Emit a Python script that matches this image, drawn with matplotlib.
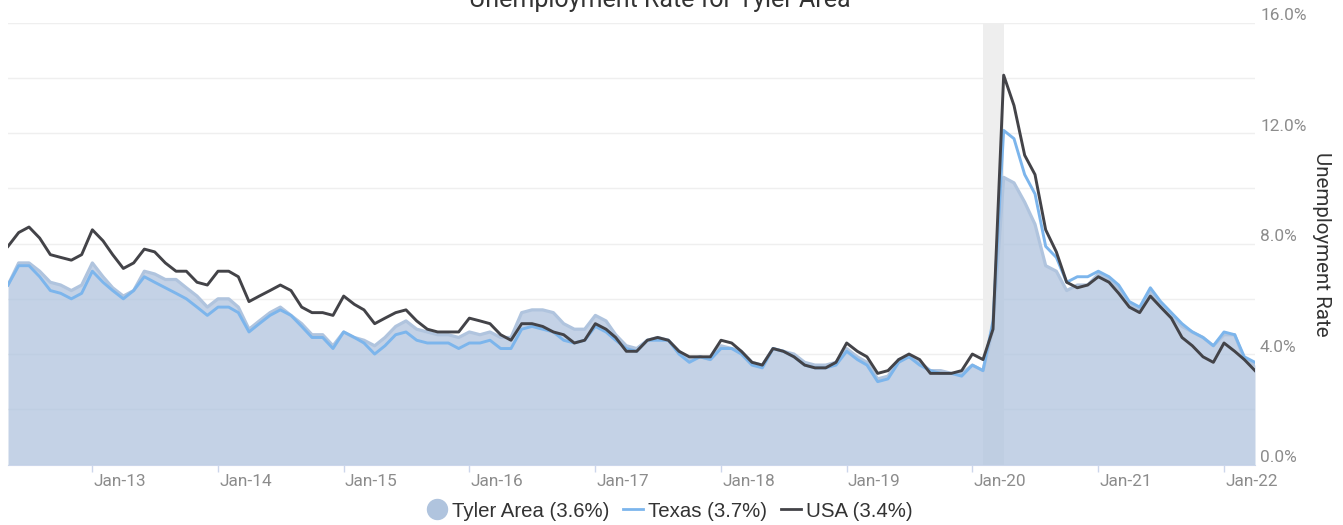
import numpy as np
import pandas as pd
import matplotlib
matplotlib.use("Agg")
import matplotlib.pyplot as plt
import matplotlib.transforms as mtransforms
from matplotlib.lines import Line2D

# monthly values, May 2012 .. Apr 2022
months = pd.date_range("2012-05-01", periods=120, freq="MS")

tyler = [6.5, 7.3, 7.3, 7.0, 6.6, 6.5, 6.3, 6.5,
         7.3, 6.8, 6.4, 6.1, 6.3, 7.0, 6.9, 6.7, 6.7, 6.4, 6.1, 5.7,
         6.0, 6.0, 5.7, 4.9, 5.2, 5.5, 5.7, 5.4, 5.1, 4.7, 4.7, 4.3,
         4.8, 4.6, 4.5, 4.3, 4.6, 5.0, 5.2, 4.9, 4.8, 4.7, 4.7, 4.6,
         4.8, 4.7, 4.8, 4.6, 4.6, 5.5, 5.6, 5.6, 5.5, 5.1, 4.9, 4.9,
         5.4, 5.2, 4.7, 4.3, 4.2, 4.5, 4.6, 4.5, 4.1, 3.8, 3.9, 3.8,
         4.3, 4.2, 4.1, 3.7, 3.6, 4.2, 4.1, 4.0, 3.7, 3.6, 3.6, 3.7,
         4.2, 3.9, 3.7, 3.1, 3.2, 3.8, 3.9, 3.7, 3.4, 3.4, 3.3, 3.3,
         3.6, 3.4, 4.9, 10.4, 10.2, 9.5, 8.7, 7.2, 7.0, 6.3, 6.5, 6.5,
         6.9, 6.7, 6.4, 5.8, 5.6, 6.3, 5.8, 5.4, 5.0, 4.8, 4.6, 4.3,
         4.7, 4.7, 3.8, 3.6]

texas = [6.5, 7.2, 7.2, 6.8, 6.3, 6.2, 6.0, 6.2,
         7.0, 6.6, 6.3, 6.0, 6.3, 6.8, 6.6, 6.4, 6.2, 6.0, 5.7, 5.4,
         5.7, 5.7, 5.5, 4.8, 5.1, 5.4, 5.6, 5.4, 5.0, 4.6, 4.6, 4.2,
         4.8, 4.6, 4.4, 4.0, 4.3, 4.7, 4.8, 4.5, 4.4, 4.4, 4.4, 4.2,
         4.4, 4.4, 4.5, 4.2, 4.2, 4.9, 5.0, 4.9, 4.8, 4.5, 4.4, 4.5,
         5.0, 4.8, 4.5, 4.2, 4.1, 4.5, 4.5, 4.5, 4.0, 3.7, 3.9, 3.8,
         4.2, 4.2, 4.0, 3.6, 3.5, 4.2, 4.1, 3.9, 3.6, 3.5, 3.5, 3.6,
         4.1, 3.8, 3.6, 3.0, 3.1, 3.7, 3.9, 3.6, 3.4, 3.3, 3.3, 3.2,
         3.6, 3.4, 5.2, 12.1, 11.8, 10.5, 9.8, 7.9, 7.5, 6.6, 6.8, 6.8,
         7.0, 6.8, 6.5, 5.9, 5.7, 6.4, 5.9, 5.5, 5.1, 4.8, 4.6, 4.3,
         4.8, 4.7, 3.9, 3.7]

usa = [7.9, 8.4, 8.6, 8.2, 7.6, 7.5, 7.4, 7.6,
       8.5, 8.1, 7.6, 7.1, 7.3, 7.8, 7.7, 7.3, 7.0, 7.0, 6.6, 6.5,
       7.0, 7.0, 6.8, 5.9, 6.1, 6.3, 6.5, 6.3, 5.7, 5.5, 5.5, 5.4,
       6.1, 5.8, 5.6, 5.1, 5.3, 5.5, 5.6, 5.2, 4.9, 4.8, 4.8, 4.8,
       5.3, 5.2, 5.1, 4.7, 4.5, 5.1, 5.1, 5.0, 4.8, 4.7, 4.4, 4.5,
       5.1, 4.9, 4.6, 4.1, 4.1, 4.5, 4.6, 4.5, 4.1, 3.9, 3.9, 3.9,
       4.5, 4.4, 4.1, 3.7, 3.6, 4.2, 4.1, 3.9, 3.6, 3.5, 3.5, 3.7,
       4.4, 4.1, 3.9, 3.3, 3.4, 3.8, 4.0, 3.8, 3.3, 3.3, 3.3, 3.4,
       4.0, 3.8, 4.9, 14.1, 13.0, 11.2, 10.5, 8.5, 7.7, 6.6, 6.4, 6.5,
       6.8, 6.6, 6.2, 5.7, 5.5, 6.1, 5.7, 5.3, 4.6, 4.3, 3.9, 3.7,
       4.4, 4.1, 3.8, 3.4]

tick_labels = ["Jan-13", "Jan-14", "Jan-15", "Jan-16", "Jan-17",
               "Jan-18", "Jan-19", "Jan-20", "Jan-21", "Jan-22"]
y_labels = [0, 4, 8, 12, 16]
recession = ("2020-02-01", "2020-04-01")

legend_names = ["Tyler Area (3.6%)", "Texas (3.7%)", "USA (3.4%)"]

TYLER_C = "#b0c4de"
TEXAS_C = "#7cb5ec"
USA_C = "#434348"
LABEL_C = "#8c8c8c"

W, H = 1343, 525
fig = plt.figure(figsize=(W / 100, H / 100), dpi=100)
ax = fig.add_axes([8 / W, 1 - 464.5 / H, (1255 - 8) / W, (464.5 - 22.7) / H])

ax.axvspan(pd.Timestamp(recession[0]), pd.Timestamp(recession[1]),
           color="#eeeeee", lw=0, zorder=1)
ax.fill_between(months, tyler, 0, color=TYLER_C, alpha=0.75, lw=0, zorder=2)
ax.plot(months, tyler, color=TYLER_C, lw=2.3, zorder=3)
ax.plot(months, texas, color=TEXAS_C, lw=2.1, zorder=4)
ax.plot(months, usa, color=USA_C, lw=2.1, zorder=5)

ax.set_xlim(months[0], months[-1])
ax.set_ylim(0, 16)

for s in ["top", "left", "right"]:
    ax.spines[s].set_visible(False)
ax.spines["bottom"].set_color("#ccd6eb")
ax.spines["bottom"].set_zorder(6)

ax.set_yticks(np.arange(0, 17, 2))
ax.yaxis.grid(True, color="#efefef", lw=1)
ax.set_axisbelow(True)
ax.tick_params(axis="y", length=0, labelleft=False, labelright=False)

jans = [m for m in months if m.month == 1]
ax.set_xticks(jans)
ax.set_xticklabels(tick_labels, ha="left", fontsize=12.4, color=LABEL_C,
                   family="Roboto")
ax.tick_params(axis="x", length=5, width=1, color="#ccd6eb", pad=2)
for lbl in ax.get_xticklabels():
    lbl.set_transform(lbl.get_transform() +
                      mtransforms.ScaledTranslation(1 / 100, 0, fig.dpi_scale_trans))

# right side percent labels, sitting a bit above their grid lines
ytrans = ax.get_yaxis_transform() + mtransforms.ScaledTranslation(5 / 100, 7 / 100, fig.dpi_scale_trans)
for v in y_labels:
    ax.text(1.0, v, "%.1f%%" % v, transform=ytrans, ha="left", va="center",
            fontsize=12.4, color=LABEL_C, family="Roboto")

fig.text(1322 / W, 1 - 244 / H, "Unemployment Rate", rotation=270,
         ha="center", va="center", fontsize=14.8, color="#333333", family="Roboto")

fig.text(660 / W, 1 - 7.5 / H, "Unemployment Rate for Tyler Area",
         ha="center", va="baseline", fontsize=18, color="#333333", family="Roboto")

handles = [Line2D([], [], marker="o", ls="none", markersize=14.4,
                  markerfacecolor=TYLER_C, markeredgecolor=TYLER_C),
           Line2D([], [], color=TEXAS_C, lw=2),
           Line2D([], [], color=USA_C, lw=2)]
fig.legend(handles, legend_names, loc="center", bbox_to_anchor=(0.4985, 0.0265),
           ncol=3, frameon=False, handlelength=1.0, handletextpad=0.22,
           columnspacing=0.68, borderpad=0,
           prop={"family": "Liberation Sans", "size": 14.7})
for t in fig.legends[0].get_texts():
    t.set_color("#333333")

fig.savefig("out.png", dpi=100)
